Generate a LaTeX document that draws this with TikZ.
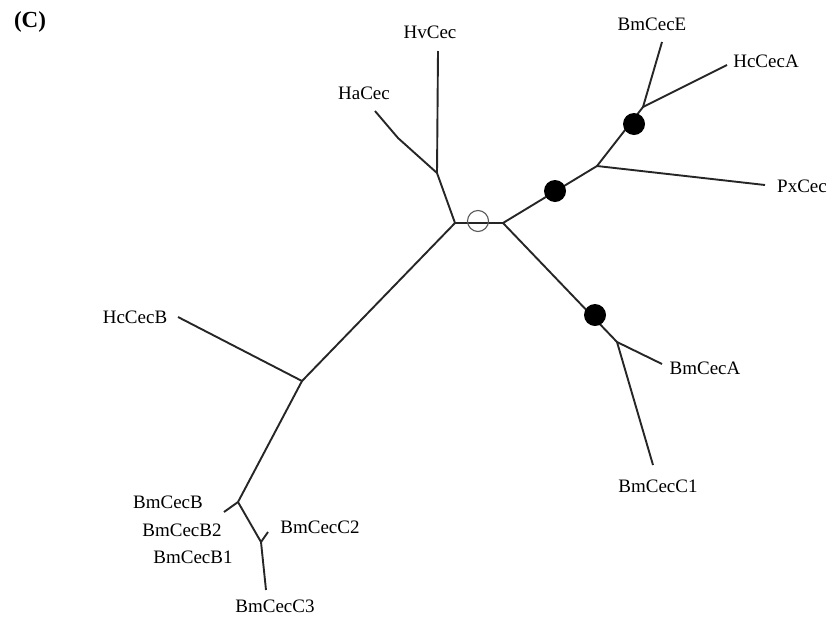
\documentclass[tikz,border=0pt]{standalone}
\usepackage{fontspec}
\setmainfont{Liberation Serif}
\usepackage{tikz}

\begin{document}
\begin{tikzpicture}[x=1pt,y=-1pt,
  branch/.style={line width=1.9pt,draw=black!85},
  leaf/.style={font=\fontsize{19}{22}\selectfont,inner sep=0pt},
  support/.style={circle,fill=black,inner sep=0pt,minimum size=22pt}]
  \useasboundingbox (0,0) rectangle (829,619);
  % internal nodes
  \coordinate (L) at (455,223);
  \coordinate (R) at (503,223);
  \coordinate (Hv) at (437,173);
  \coordinate (Ha) at (398,138);
  \coordinate (Hc) at (302,381);
  \coordinate (Bb) at (238,502);
  \coordinate (Cc) at (261,542);
  \coordinate (Px) at (597,166);
  \coordinate (Ee) at (643,107);
  \coordinate (Aa) at (617,342);
  % tips
  \coordinate (tHv) at (438,51);
  \coordinate (tHa) at (375,111);
  \coordinate (tHcB) at (178,317);
  \coordinate (tB) at (224,512);
  \coordinate (tC2) at (268,532);
  \coordinate (tC3) at (266,590);
  \coordinate (tE) at (662,42);
  \coordinate (tHcA) at (727,65);
  \coordinate (tPx) at (765,185);
  \coordinate (tA) at (662,364);
  \coordinate (tC1) at (653,465);
  % branches
  \draw[branch] (L) -- (R);
  \draw[branch] (L) -- (Hv) -- (tHv);
  \draw[branch] (Hv) -- (Ha) -- (tHa);
  \draw[branch] (L) -- (Hc) -- (tHcB);
  \draw[branch] (Hc) -- (Bb) -- (tB);
  \draw[branch] (Bb) -- (Cc) -- (tC3);
  \draw[branch] (Cc) -- (tC2);
  \draw[branch] (R) -- (Px) -- (tPx);
  \draw[branch] (Px) -- (Ee) -- (tE);
  \draw[branch] (Ee) -- (tHcA);
  \draw[branch] (R) -- (Aa) -- (tA);
  \draw[branch] (Aa) -- (tC1);
  % supports
  \draw[black!65,line width=1.1pt] (478,221) circle (10.5pt);
  \node[support] (s1) at (555,191) {};
  \node[support] (s2) at (634,124) {};
  \node[support] (s3) at (595,315) {};
  % labels
  \node[leaf] (nHv) at (430,32) {HvCec};
  \node[leaf] (nHa) at (364,93) {HaCec};
  \node[leaf] (nHcB) at (135,317) {HcCecB};
  \node[leaf] (nB) at (168,502) {BmCecB};
  \node[leaf] (nB2) at (182,530) {BmCecB2};
  \node[leaf] (nB1) at (193,557) {BmCecB1};
  \node[leaf] (nC2) at (320,527) {BmCecC2};
  \node[leaf] (nC3) at (275,606) {BmCecC3};
  \node[leaf] (nE) at (652,24) {BmCecE};
  \node[leaf] (nHcA) at (766,61) {HcCecA};
  \node[leaf] (nPx) at (802,186) {PxCec};
  \node[leaf] (nA) at (705,368) {BmCecA};
  \node[leaf] (nC1) at (658,486) {BmCecC1};
  \node[leaf,font=\fontsize{23}{26}\selectfont\bfseries] (tag) at (30,22) {(C)};
\end{tikzpicture}
\end{document}
